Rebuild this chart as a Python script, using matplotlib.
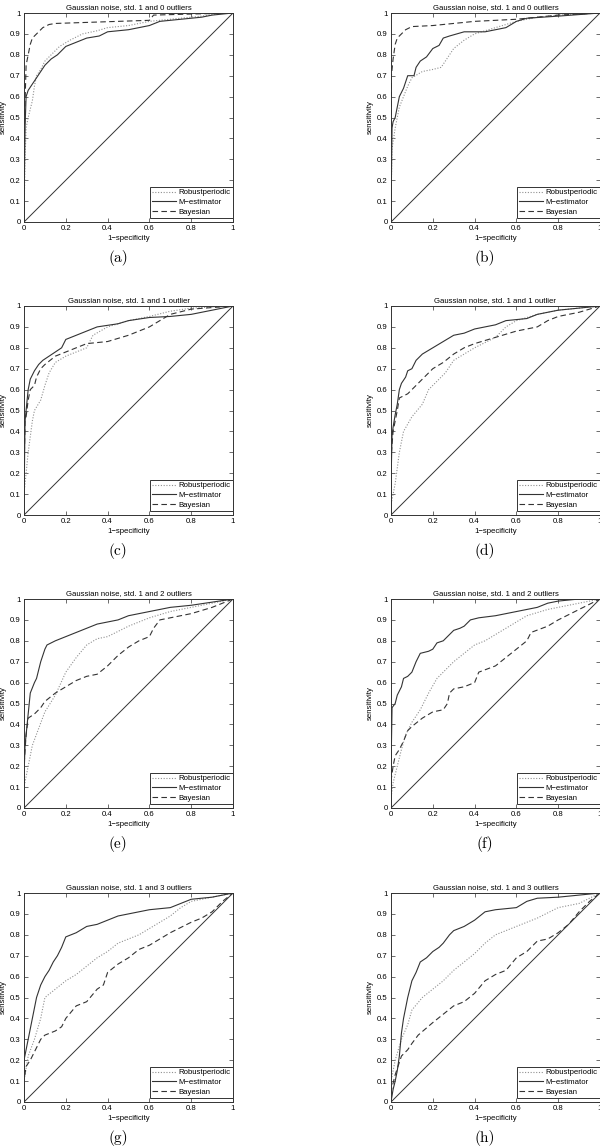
import matplotlib
matplotlib.use("Agg")
import matplotlib.pyplot as plt

plt.rcParams['font.family'] = ['Liberation Sans', 'DejaVu Sans']

titles = ["Gaussian noise, std. 1 and 0 outliers", "Gaussian noise, std. 1 and 0 outliers",
          "Gaussian noise, std. 1 and 1 outlier", "Gaussian noise, std. 1 and 1 outlier",
          "Gaussian noise, std. 1 and 2 outliers", "Gaussian noise, std. 1 and 2 outliers",
          "Gaussian noise, std. 1 and 3 outliers", "Gaussian noise, std. 1 and 3 outliers"]
captions = ["(a)", "(b)", "(c)", "(d)", "(e)", "(f)", "(g)", "(h)"]
series_names = ["Robustperiodic", "M\u2212estimator", "Bayesian"]
xticks = [0, 0.2, 0.4, 0.6, 0.8, 1]
yticks = [0, 0.1, 0.2, 0.3, 0.4, 0.5, 0.6, 0.7, 0.8, 0.9, 1]

# (1-specificity, sensitivity) pairs
a_rob = [(0, 0), (0.005, 0.3), (0.01, 0.45), (0.02, 0.5), (0.04, 0.58), (0.05, 0.65), (0.06, 0.7), (0.08, 0.73),
         (0.1, 0.77), (0.13, 0.8), (0.17, 0.84), (0.22, 0.87), (0.28, 0.9), (0.35, 0.915), (0.4, 0.93),
         (0.5, 0.94), (0.6, 0.96), (0.7, 0.97), (0.85, 0.985), (0.95, 1.0), (1, 1)]
a_mest = [(0, 0), (0.003, 0.3), (0.005, 0.45), (0.01, 0.6), (0.02, 0.63), (0.04, 0.66), (0.06, 0.69), (0.08, 0.72),
          (0.1, 0.75), (0.13, 0.78), (0.16, 0.8), (0.2, 0.84), (0.25, 0.86), (0.3, 0.88), (0.36, 0.89),
          (0.4, 0.91), (0.5, 0.92), (0.55, 0.93), (0.6, 0.94), (0.65, 0.96), (0.75, 0.97), (0.85, 0.98),
          (0.9, 0.99), (1, 1)]
a_bay = [(0, 0), (0.003, 0.5), (0.01, 0.75), (0.02, 0.8), (0.03, 0.85), (0.04, 0.88), (0.06, 0.9), (0.09, 0.93),
         (0.12, 0.945), (0.15, 0.95), (0.3, 0.955), (0.45, 0.96), (0.6, 0.965), (0.62, 0.99), (0.8, 0.995), (1, 1)]

b_rob = [(0, 0), (0.002, 0.2), (0.005, 0.35), (0.02, 0.45), (0.04, 0.55), (0.06, 0.6), (0.08, 0.65), (0.1, 0.69),
         (0.15, 0.72), (0.2, 0.73), (0.24, 0.74), (0.26, 0.77), (0.3, 0.83), (0.35, 0.87), (0.4, 0.9),
         (0.5, 0.93), (0.6, 0.96), (0.7, 0.98), (0.8, 0.99), (1, 1)]
b_mest = [(0, 0), (0.003, 0.3), (0.005, 0.45), (0.01, 0.48), (0.02, 0.5), (0.03, 0.55), (0.04, 0.6), (0.06, 0.64),
          (0.08, 0.7), (0.11, 0.7), (0.12, 0.74), (0.14, 0.77), (0.17, 0.79), (0.2, 0.83), (0.23, 0.845),
          (0.25, 0.88), (0.28, 0.89), (0.35, 0.91), (0.45, 0.91), (0.55, 0.93), (0.6, 0.96), (0.65, 0.975),
          (0.8, 0.985), (1, 1)]
b_bay = [(0, 0), (0.002, 0.7), (0.01, 0.78), (0.02, 0.85), (0.03, 0.88), (0.05, 0.9), (0.07, 0.92), (0.1, 0.935),
         (0.2, 0.94), (0.3, 0.95), (0.4, 0.96), (0.6, 0.97), (0.7, 0.98), (0.8, 0.99), (1, 1)]

c_rob = [(0, 0), (0, 0.1), (0.01, 0.2), (0.02, 0.3), (0.04, 0.45), (0.05, 0.5), (0.08, 0.55), (0.1, 0.62),
         (0.12, 0.68), (0.15, 0.73), (0.2, 0.76), (0.25, 0.78), (0.3, 0.8), (0.33, 0.86), (0.4, 0.9),
         (0.5, 0.93), (0.6, 0.95), (0.7, 0.975), (0.8, 0.99), (1, 1)]
c_mest = [(0, 0), (0.003, 0.3), (0.005, 0.45), (0.01, 0.5), (0.02, 0.6), (0.03, 0.65), (0.05, 0.69), (0.07, 0.72),
          (0.09, 0.74), (0.12, 0.76), (0.15, 0.78), (0.18, 0.8), (0.2, 0.84), (0.25, 0.86), (0.3, 0.88),
          (0.35, 0.9), (0.45, 0.915), (0.5, 0.93), (0.6, 0.945), (0.7, 0.95), (0.8, 0.96), (0.9, 0.98), (1, 1)]
c_bay = [(0, 0), (0.002, 0.3), (0.005, 0.45), (0.01, 0.47), (0.02, 0.55), (0.03, 0.6), (0.05, 0.62), (0.06, 0.66),
         (0.08, 0.7), (0.1, 0.72), (0.15, 0.76), (0.2, 0.78), (0.25, 0.8), (0.3, 0.82), (0.4, 0.83),
         (0.5, 0.86), (0.55, 0.88), (0.6, 0.9), (0.65, 0.93), (0.7, 0.96), (0.8, 0.985), (1, 1)]

d_rob = [(0, 0), (0, 0.05), (0.02, 0.15), (0.04, 0.3), (0.06, 0.4), (0.1, 0.47), (0.15, 0.53), (0.18, 0.6),
         (0.22, 0.64), (0.26, 0.68), (0.3, 0.74), (0.4, 0.8), (0.5, 0.85), (0.55, 0.9), (0.6, 0.93),
         (0.7, 0.96), (0.8, 0.98), (1, 1)]
d_mest = [(0, 0), (0, 0.15), (0.005, 0.38), (0.01, 0.42), (0.02, 0.48), (0.03, 0.53), (0.04, 0.6), (0.05, 0.63),
          (0.07, 0.66), (0.08, 0.69), (0.1, 0.7), (0.12, 0.74), (0.15, 0.77), (0.2, 0.8), (0.25, 0.83),
          (0.3, 0.86), (0.35, 0.87), (0.4, 0.89), (0.5, 0.91), (0.55, 0.93), (0.65, 0.94), (0.7, 0.96),
          (0.8, 0.98), (0.9, 0.99), (1, 1)]
d_bay = [(0, 0), (0.002, 0.3), (0.01, 0.4), (0.03, 0.5), (0.04, 0.56), (0.08, 0.58), (0.1, 0.6), (0.15, 0.65),
         (0.2, 0.7), (0.25, 0.73), (0.3, 0.77), (0.35, 0.8), (0.4, 0.82), (0.5, 0.85), (0.6, 0.88),
         (0.7, 0.9), (0.75, 0.93), (0.8, 0.95), (0.9, 0.97), (1, 1)]

e_rob = [(0, 0), (0, 0.1), (0.02, 0.2), (0.04, 0.3), (0.07, 0.38), (0.1, 0.46), (0.15, 0.54), (0.2, 0.65),
         (0.25, 0.72), (0.3, 0.78), (0.35, 0.81), (0.4, 0.82), (0.5, 0.87), (0.6, 0.91), (0.7, 0.94),
         (0.8, 0.96), (0.9, 0.98), (1, 1)]
e_mest = [(0, 0), (0, 0.15), (0.005, 0.3), (0.01, 0.35), (0.02, 0.45), (0.03, 0.55), (0.05, 0.6), (0.06, 0.62),
          (0.08, 0.7), (0.09, 0.73), (0.1, 0.76), (0.11, 0.78), (0.15, 0.8), (0.2, 0.82), (0.25, 0.84),
          (0.3, 0.86), (0.35, 0.88), (0.45, 0.9), (0.5, 0.92), (0.6, 0.94), (0.7, 0.96), (0.8, 0.97),
          (0.9, 0.985), (1, 1)]
e_bay = [(0, 0), (0, 0.2), (0.01, 0.35), (0.02, 0.43), (0.05, 0.45), (0.08, 0.48), (0.1, 0.51), (0.15, 0.55),
         (0.2, 0.58), (0.25, 0.61), (0.3, 0.63), (0.35, 0.64), (0.4, 0.68), (0.45, 0.73), (0.5, 0.77),
         (0.55, 0.8), (0.6, 0.82), (0.62, 0.86), (0.65, 0.9), (0.7, 0.91), (0.8, 0.93), (0.9, 0.96), (1, 1)]

f_rob = [(0, 0), (0, 0.05), (0.01, 0.12), (0.03, 0.2), (0.05, 0.28), (0.07, 0.35), (0.1, 0.41), (0.14, 0.47),
         (0.18, 0.55), (0.22, 0.62), (0.27, 0.67), (0.3, 0.7), (0.35, 0.74), (0.4, 0.78), (0.45, 0.8),
         (0.5, 0.83), (0.55, 0.86), (0.6, 0.89), (0.65, 0.92), (0.75, 0.95), (0.85, 0.97), (1, 1)]
f_mest = [(0, 0), (0.002, 0.3), (0.005, 0.48), (0.02, 0.5), (0.03, 0.54), (0.05, 0.58), (0.06, 0.62), (0.08, 0.63),
          (0.1, 0.65), (0.12, 0.7), (0.14, 0.74), (0.18, 0.75), (0.2, 0.76), (0.22, 0.79), (0.25, 0.8),
          (0.28, 0.83), (0.3, 0.85), (0.33, 0.86), (0.35, 0.87), (0.38, 0.9), (0.42, 0.91), (0.5, 0.92),
          (0.6, 0.94), (0.7, 0.96), (0.75, 0.98), (0.8, 0.99), (0.9, 1.0), (1, 1)]
f_bay = [(0, 0), (0, 0.13), (0.01, 0.2), (0.02, 0.25), (0.04, 0.28), (0.06, 0.32), (0.08, 0.37), (0.1, 0.39),
         (0.15, 0.43), (0.2, 0.46), (0.25, 0.47), (0.27, 0.5), (0.28, 0.55), (0.3, 0.57), (0.35, 0.58),
         (0.4, 0.6), (0.42, 0.65), (0.5, 0.68), (0.55, 0.72), (0.6, 0.76), (0.65, 0.8), (0.67, 0.84),
         (0.75, 0.87), (0.8, 0.9), (0.9, 0.95), (1, 1)]

g_rob = [(0, 0), (0, 0.1), (0.02, 0.22), (0.05, 0.3), (0.08, 0.4), (0.1, 0.5), (0.15, 0.54), (0.2, 0.58),
         (0.25, 0.61), (0.3, 0.65), (0.35, 0.69), (0.4, 0.72), (0.45, 0.76), (0.5, 0.78), (0.55, 0.8),
         (0.6, 0.83), (0.65, 0.86), (0.7, 0.89), (0.75, 0.93), (0.8, 0.96), (0.9, 0.98), (1, 1)]
g_mest = [(0, 0), (0, 0.2), (0.01, 0.25), (0.02, 0.3), (0.03, 0.35), (0.04, 0.4), (0.05, 0.45), (0.06, 0.5),
          (0.07, 0.53), (0.08, 0.56), (0.1, 0.6), (0.12, 0.63), (0.14, 0.67), (0.16, 0.7), (0.18, 0.74),
          (0.2, 0.79), (0.25, 0.81), (0.3, 0.84), (0.35, 0.85), (0.4, 0.87), (0.45, 0.89), (0.5, 0.9),
          (0.55, 0.91), (0.6, 0.92), (0.7, 0.93), (0.8, 0.97), (0.9, 0.98), (1, 1)]
g_bay = [(0, 0), (0, 0.1), (0.01, 0.17), (0.03, 0.2), (0.05, 0.24), (0.08, 0.3), (0.1, 0.32), (0.15, 0.34),
         (0.18, 0.36), (0.2, 0.4), (0.25, 0.46), (0.3, 0.48), (0.35, 0.54), (0.38, 0.56), (0.4, 0.62),
         (0.45, 0.66), (0.5, 0.69), (0.55, 0.73), (0.6, 0.75), (0.65, 0.78), (0.7, 0.81), (0.8, 0.86),
         (0.85, 0.88), (0.9, 0.91), (0.95, 0.96), (1, 1)]

h_rob = [(0, 0), (0, 0.1), (0.02, 0.2), (0.05, 0.3), (0.08, 0.37), (0.1, 0.44), (0.15, 0.5), (0.2, 0.54),
         (0.25, 0.58), (0.3, 0.63), (0.35, 0.67), (0.4, 0.71), (0.45, 0.76), (0.5, 0.8), (0.6, 0.84),
         (0.7, 0.88), (0.8, 0.93), (0.9, 0.95), (1, 1)]
h_mest = [(0, 0), (0.01, 0.06), (0.02, 0.1), (0.03, 0.15), (0.04, 0.22), (0.05, 0.33), (0.06, 0.4), (0.07, 0.45),
          (0.08, 0.5), (0.1, 0.58), (0.12, 0.62), (0.14, 0.67), (0.17, 0.69), (0.2, 0.72), (0.23, 0.74),
          (0.25, 0.76), (0.28, 0.8), (0.3, 0.82), (0.35, 0.84), (0.4, 0.87), (0.45, 0.91), (0.5, 0.92),
          (0.6, 0.93), (0.65, 0.96), (0.7, 0.975), (0.8, 0.98), (0.9, 0.99), (1, 1)]
h_bay = [(0, 0), (0, 0.05), (0.02, 0.13), (0.05, 0.22), (0.08, 0.25), (0.1, 0.28), (0.13, 0.32), (0.2, 0.38),
         (0.25, 0.42), (0.3, 0.46), (0.35, 0.48), (0.4, 0.52), (0.45, 0.58), (0.5, 0.61), (0.55, 0.63),
         (0.6, 0.69), (0.65, 0.72), (0.7, 0.77), (0.75, 0.78), (0.8, 0.81), (0.85, 0.85), (0.9, 0.91),
         (0.95, 0.96), (1, 1)]

panels = [(a_rob, a_mest, a_bay), (b_rob, b_mest, b_bay), (c_rob, c_mest, c_bay), (d_rob, d_mest, d_bay),
          (e_rob, e_mest, e_bay), (f_rob, f_mest, f_bay), (g_rob, g_mest, g_bay), (h_rob, h_mest, h_bay)]

W, H = 600, 1146
fig = plt.figure(figsize=(W / 100, H / 100), dpi=100)

row_top = [13, 306, 599, 893]
col_left = [24, 391]
ax_w, ax_h = 209, 209
cap_x = [118, 485]
fs = 5.6

styles = [dict(color='#909090', linestyle=(0, (1, 1.5)), lw=0.8),
          dict(color='#333333', linestyle='-', lw=0.8),
          dict(color='#333333', linestyle=(0, (5, 3)), lw=0.8)]

for i, curves in enumerate(panels):
    r, c = divmod(i, 2)
    left = col_left[c]
    top = row_top[r]
    ax = fig.add_axes([left / W, 1 - (top + ax_h) / H, ax_w / W, ax_h / H])
    for pts, name, st in zip(curves, series_names, styles):
        xs, ys = zip(*pts)
        ax.plot(xs, ys, label=name, **st)
    ax.plot([0, 1], [0, 1], color='#333333', lw=0.7)
    ax.set_xlim(0, 1)
    ax.set_ylim(0, 1)
    ax.set_xticks(xticks)
    ax.set_yticks(yticks)
    ax.set_xticklabels([f"{t:g}" for t in xticks])
    ax.set_yticklabels([f"{t:g}" for t in yticks])
    ax.tick_params(direction='in', top=True, right=True, length=3, width=0.5,
                   labelsize=fs, pad=2.5, color='#333333')
    for sp in ax.spines.values():
        sp.set_linewidth(0.7)
        sp.set_color('#333333')
    ax.set_title(titles[i], fontsize=fs, pad=3)
    ax.set_xlabel("1\u2212specificity", fontsize=fs, labelpad=2)
    ax.set_ylabel("sensitivity", fontsize=fs, labelpad=2)
    leg = ax.legend(loc='lower right', bbox_to_anchor=(1.0, 0.018), borderaxespad=0,
                    fontsize=fs, fancybox=False, framealpha=1, edgecolor='#333333',
                    handlelength=3.0, labelspacing=0.3, borderpad=0.3, handletextpad=0.4)
    leg.get_frame().set_linewidth(0.7)
    fig.text(cap_x[c] / W, 1 - (top + 245) / H, captions[i], fontsize=11,
             family='cmr10', ha='center', va='center')

fig.savefig("out.png", dpi=100)
